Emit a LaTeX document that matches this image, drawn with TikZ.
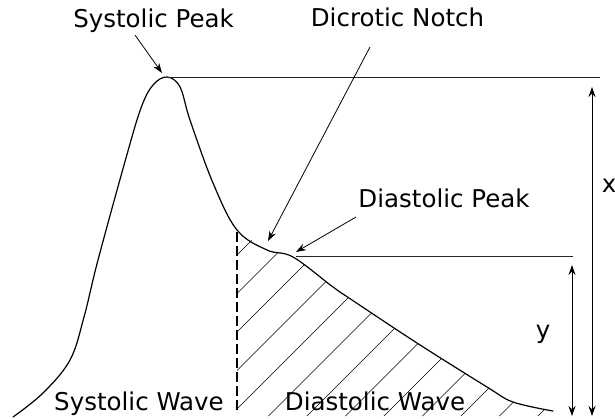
\documentclass[tikz,border=0pt]{standalone}
\usepackage{fontspec}
\setmainfont{DejaVu Sans}
\usetikzlibrary{arrows.meta}

\begin{document}
\begin{tikzpicture}[
  x=1pt,y=-1pt,
  font=\fontsize{24.5}{28}\selectfont,
  lbl/.style={inner sep=0pt,anchor=base},
  wave/.style={line width=1.2pt,line join=round,line cap=round},
  ptr/.style={line width=0.8pt,-{Stealth[length=10pt,width=7pt]}},
  level/.style={line width=0.9pt,black!85},
  dim/.style={line width=0.9pt,{Stealth[length=10pt,width=7pt]}-{Stealth[length=10pt,width=7pt]}},
  hatch/.style={line width=0.6pt},
  split/.style={line width=2pt,dash pattern=on 10pt off 4pt},
]
  \useasboundingbox (0,0) rectangle (615,418);

  % labels
  \node[lbl] (syspk) at (153.5,27) {Systolic Peak};
  \node[lbl] (dicn)  at (397.5,26) {Dicrotic Notch};
  \node[lbl] (diapk) at (444,207) {Diastolic Peak};
  \node[lbl] (syswv) at (139,410) {Systolic Wave};
  \node[lbl] (diawv) at (375,410) {Diastolic Wave};
  \node[inner sep=0pt] (xlbl) at (609,186) {x};
  \node[inner sep=0pt] (ylbl) at (543,334) {y};

  % hatched diastolic area
  \begin{scope}
    \clip plot[smooth,tension=0.55] coordinates {(237,230) (267,250) (293,257) (333,287) (352,300) (417,343) (487,387) (513,402) (553,411)}
      -- (553,416) -- (237,416) -- cycle;
    \foreach \c in {0,...,12} {
      \draw[hatch] ({492+38.5*\c-430},430) -- ({492+38.5*\c-200},200);
    }
  \end{scope}

  % pulse wave
  \draw[wave] plot[smooth,tension=0.6] coordinates {(13,417) (43,393) (70,360) (84,317) (98,260) (126,158) (141,108) (153,85) (167,77) (180,87) (190,120) (213,183) (237,230) (267,250) (293,257) (333,287) (352,300) (417,343) (487,387) (513,402) (553,411)};

  \coordinate (top)    at (167,77);
  \coordinate (topend) at (600,77);
  \coordinate (dp)     at (296,256);
  \coordinate (dpend)  at (573,256);
  \coordinate (cuttop) at (237,232);
  \coordinate (cutbot) at (237,412);
  \draw[split] (cuttop) -- (cutbot);

  % level lines
  \draw[level] (top) -- (topend);
  \draw[level] (dp) -- (dpend);

  % pointers
  \coordinate (sptail) at (135,35);
  \coordinate (sptip)  at (162,73);
  \coordinate (dntail) at (370,47);
  \coordinate (dntip)  at (268,241);
  \coordinate (dptail) at (356,217);
  \coordinate (dptip)  at (296,252);
  \draw[ptr] (sptail) -- (sptip);
  \draw[ptr] (dntail) -- (dntip);
  \draw[ptr] (dptail) -- (dptip);

  % dimensions
  \coordinate (xa) at (592,87);
  \coordinate (xb) at (592,416);
  \coordinate (ya) at (572,265);
  \coordinate (yb) at (572,416);
  \draw[dim] (xa) -- (xb);
  \draw[dim] (ya) -- (yb);
\end{tikzpicture}
\end{document}
